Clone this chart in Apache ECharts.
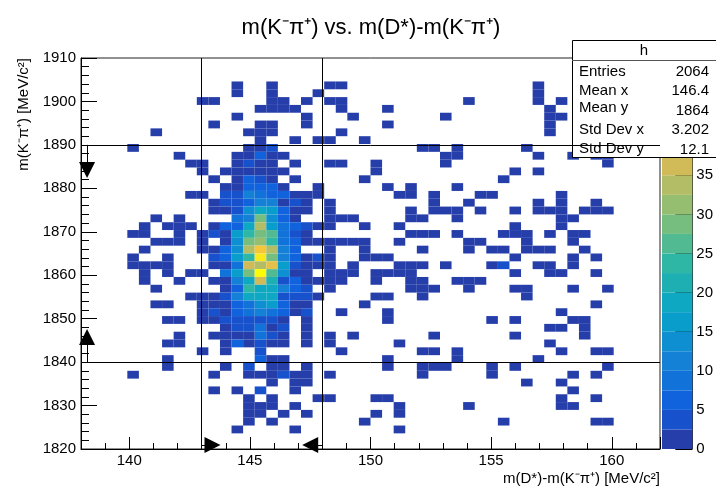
<!DOCTYPE html>
<html><head><meta charset="utf-8">
<style>html,body{margin:0;padding:0;background:#fff}#c{width:716px;height:490px}</style>
<script src="https://cdn.jsdelivr.net/npm/echarts@6/dist/echarts.min.js"></script>
</head><body><div id="c"></div>
<script>
// histogram binning (50 x 50 bins)
const xRange = [138, 162];
const yRange = [1820, 1910];
const binCount = 50;
// bin contents, one entry per y bin from the top; each segment = [first x bin, count, count, ...]
const rowSegments = [
 [],[],[],
 [[13,1],[16,1],[21,1,1],[39,1]],
 [[13,1],[16,1],[20,1],[39,1]],
 [[10,1,1],[16,1,1],[19,1],[21,1,1],[33,1],[39,1],[41,1]],
 [[15,1,1,1,1],[22,1],[26,1],[40,1]],
 [[13,1],[19,1],[23,1],[31,1],[40,1,1]],
 [[11,1],[15,1,1],[19,1],[26,1],[40,1]],
 [[6,1],[14,1,1,1],[22,1],[40,1]],
 [[15,1],[18,1],[20,1,1],[24,1]],
 [[4,1],[14,1,1,3],[29,1,1],[32,1],[38,1]],
 [[8,1],[13,1,1,6,1,1],[31,1,1],[39,1],[42,1],[44,1,1]],
 [[9,1,1],[13,1,3,1,1],[18,1],[21,1,1],[25,1],[31,1],[45,1]],
 [[10,1],[12,1,1,1,1,1,1],[25,1],[37,1],[39,1]],
 [[11,1],[13,1,6,3,1],[18,1],[24,1],[36,1]],
 [[12,1,1,6,6,6,1],[20,1],[26,1],[28,1],[32,1]],
 [[9,1,1],[12,3,3,11,8,6,6,1,1,1],[27,1,1],[30,1],[34,1,1],[41,1]],
 [[11,1,3,3,6,11,11,1,3,1],[21,1],[30,1],[33,1],[39,1],[41,1],[44,1]],
 [[11,1,1,3,13,18,16,6,1,1],[21,1],[28,1],[30,1,1,1],[34,1],[37,1],[39,1,1,1],[43,1,1,1]],
 [[6,1],[8,1],[13,8,11,28,13,6,1],[21,1,1,1],[28,1,1],[32,1],[41,1,1]],
 [[5,1],[7,1,1,1],[11,1,6,6,18,33,16,8,6,3,1,1],[24,1],[27,1],[37,1],[41,1]],
 [[4,1,1],[8,1],[10,1,3,1,16,23,28,26,8,3,1],[28,1,1,1],[32,1],[36,1,1,1],[40,1],[42,1,1]],
 [[6,1,1,1],[10,1],[12,1,13,28,31,23,8,6,1,1,1,1,1,1],[27,1],[33,1,1],[38,1],[42,1]],
 [[5,1],[10,1,1,6,13,33,41,33,11,6],[21,1],[24,1],[29,1],[33,1],[35,1,1],[38,1,1,1],[43,1]],
 [[4,1],[7,1],[11,3,6,16,23,46,28,11,6,1,3,1],[24,1,1,1],[37,1],[42,1],[44,1]],
 [[4,1,1,1,1],[11,1,1,8,36,33,38,16,3,1,1,1],[23,1],[27,1,1,1],[31,1],[35,1,3],[39,1,1],[42,1]],
 [[5,1],[7,1],[9,1,1],[12,8,16,28,49,26,13,1,1],[21,1,1,1],[25,1,1,1,1],[37,1],[40,1,1],[44,1]],
 [[5,1],[8,1],[11,1,1,11,18,36,21,3,6,1,1,1,1],[25,1],[28,1,1],[32,1,1,1]],
 [[6,1],[12,1,6,23,18,18,11,6,3],[21,1],[28,1,1,1],[33,1],[37,1,1],[42,1],[45,1]],
 [[9,1,1,1,3,11,18,18,18,3,3,3,1],[25,1,1],[29,1],[38,1]],
 [[6,1,1],[10,1,1,1,6,8,13,16,6,1,1],[24,1],[44,1]],
 [[10,1,3,1,6,8,11,8,6,1,3],[22,1],[26,1],[41,1]],
 [[7,1,1],[10,1,1,3,3,3,3,3,1],[19,1],[26,1],[35,1],[37,1],[42,1,1]],
 [[12,1,3,3,8,1,3],[19,1],[40,1,1],[43,1]],
 [[8,1],[11,1,1,1,1,8,3,1],[19,1],[21,1],[23,1],[30,1],[37,1],[43,1]],
 [[7,1,1],[12,1,6,1,3,1,1],[19,1],[21,1],[27,1],[40,1]],
 [[10,1],[12,1],[15,3],[22,1],[29,1,1],[32,1],[41,1],[44,1,1]],
 [[7,1],[15,6,1,1],[26,1],[32,1],[39,1]],
 [[7,1],[12,1],[14,3],[16,1,1],[19,1],[26,1],[29,1,1,1],[35,1],[37,1],[45,1]],
 [[4,1],[11,1],[14,1,1,1,3,1,1],[21,1],[29,1],[35,1],[42,1],[44,1]],
 [[16,1],[18,1,1],[38,1],[41,1]],
 [[11,1],[13,1],[15,3],[18,1],[42,1]],
 [[14,1],[16,1],[20,1,1],[25,1,1],[41,1],[44,1]],
 [[14,1,1,1],[18,1],[27,1],[33,1],[41,1,1]],
 [[14,1,1],[17,1],[19,1],[25,1],[27,1]],
 [[14,1],[16,1],[24,1],[36,1],[44,1,1]],
 [[13,1],[18,1],[27,1]],
 [],[]
];
// colour scale
const zMax = 50;
const palette = ['#263ea9','#1752cc','#1063dc','#1172d9','#1481d6','#0e8fd1','#099dcc','#0ea8c2','#1eafb3','#2eb7a4','#52ba92','#75be80','#96be71','#b3bd65','#d1bb59','#e3c049','#f5c53a','#fdd32b','#fbe81a','#fdfb06'];
// selection limits and arrow end points
const limitsX = [143, 148];
const limitsY = [1840, 1890];
const arrows = [
 [[143, 1820.9], [143.45, 1820.9]],
 [[148, 1820.9], [147.5, 1820.9]],
 [[138.25, 1890], [138.25, 1884.2]],
 [[138.25, 1840], [138.25, 1845.8]]
];
// stats box
const statsName = 'h';
const statsLabels = ['Entries', 'Mean x', 'Mean y', 'Std Dev x', 'Std Dev y'];
const statsValues = ['2064', '146.4', '1864', '3.202', '12.1'];
const statsLabelY = [72, 91, 108, 130, 149];
const statsValueY = [72, 91, 111, 130, 150];

const font = '"Liberation Sans", Arial, sans-serif';
const xStep = (xRange[1] - xRange[0]) / binCount;
const yStep = (yRange[1] - yRange[0]) / binCount;
const cells = [];
rowSegments.forEach((segs, r) => segs.forEach(seg => {
  for (let k = 1; k < seg.length; k++) {
    const j = seg[0] + k - 1;
    cells.push([xRange[0] + j * xStep, yRange[1] - (r + 1) * yStep, xRange[0] + (j + 1) * xStep, yRange[1] - r * yStep, seg[k]]);
  }
}));
const bandStep = zMax / palette.length;
const bands = palette.map((c, i) => [i * bandStep, (i + 1) * bandStep]);
const colorOf = z => palette[Math.min(palette.length - 1, Math.floor(z / bandStep))];

const rectItem = (params, api, x0, y0, x1, y1, fill) => {
  const a = api.coord([x0, y0]), b = api.coord([x1, y1]);
  return {type: 'rect', shape: {x: a[0], y: b[1], width: b[0] - a[0], height: a[1] - b[1]}, style: {fill: fill}};
};

const statsText = [];
statsLabels.forEach((t, i) => statsText.push({type: 'text', z: 11, x: 579, y: statsLabelY[i], style: {text: t, font: '15px ' + font, fill: '#000', textAlign: 'left', textVerticalAlign: 'middle'}}));
statsValues.forEach((t, i) => statsText.push({type: 'text', z: 11, x: 709, y: statsValueY[i], style: {text: t, font: '15px ' + font, fill: '#000', textAlign: 'right', textVerticalAlign: 'middle'}}));

const chart = echarts.init(document.getElementById('c'), null, {renderer: 'canvas'});
chart.setOption({
  animation: false,
  backgroundColor: '#fff',
  title: {text: 'm(K⁻π⁺) vs. m(D*)-m(K⁻π⁺)', left: 366, top: 12, textAlign: 'center', textStyle: {fontFamily: font, fontSize: 22, fontWeight: 'normal', color: '#000'}},
  grid: [
    {left: 81, right: 56, top: 58, bottom: 41, show: true, borderColor: '#222', borderWidth: 1, backgroundColor: 'transparent'},
    {left: 662, right: 21, top: 58, bottom: 41}
  ],
  xAxis: [
    {type: 'value', gridIndex: 0, min: xRange[0], max: xRange[1], splitNumber: 5, splitLine: {show: false},
     name: 'm(D*)-m(K⁻π⁺) [MeV/c²]', nameLocation: 'end', nameGap: 0,
     nameTextStyle: {fontFamily: font, fontSize: 15, color: '#000', align: 'right', verticalAlign: 'top', padding: [22, 0, 0, 0]},
     axisLine: {lineStyle: {color: '#000'}},
     axisTick: {inside: true, length: 12, lineStyle: {color: '#000'}},
     minorTick: {show: true, splitNumber: 5, length: 6, lineStyle: {color: '#000'}},
     axisLabel: {fontFamily: font, fontSize: 15, color: '#000', margin: 4, showMinLabel: false, showMaxLabel: false}},
    {type: 'value', gridIndex: 1, min: 0, max: 1, show: false}
  ],
  yAxis: [
    {type: 'value', gridIndex: 0, min: yRange[0], max: yRange[1], interval: 10, splitLine: {show: false},
     name: 'm(K⁻π⁺) [MeV/c²]', nameLocation: 'end', nameGap: 0, nameRotate: 90,
     nameTextStyle: {fontFamily: font, fontSize: 15, color: '#000', align: 'right', verticalAlign: 'bottom', padding: [0, 0, 50, 0]},
     axisLine: {lineStyle: {color: '#000'}},
     axisTick: {inside: true, length: 16, lineStyle: {color: '#000'}},
     minorTick: {show: true, splitNumber: 5, length: 8, lineStyle: {color: '#000'}},
     axisLabel: {fontFamily: font, fontSize: 15, color: '#000', margin: 5, padding: [2, 0, 0, 0], formatter: v => String(v)}},
    {type: 'value', gridIndex: 1, position: 'right', min: 0, max: zMax, interval: 5, splitLine: {show: false},
     axisLine: {show: true, onZero: false, lineStyle: {color: '#333'}},
     axisTick: {inside: true, length: 17, lineStyle: {color: '#000'}},
     axisLabel: {fontFamily: font, fontSize: 15, color: '#000', margin: 4, padding: [2, 0, 0, 0]}}
  ],
  series: [
    {type: 'custom', name: 'h', xAxisIndex: 0, yAxisIndex: 0, z: 2, silent: true, clip: true,
     data: cells, encode: {x: [0, 2], y: [1, 3]},
     renderItem: (p, api) => rectItem(p, api, api.value(0), api.value(1), api.value(2), api.value(3), colorOf(api.value(4)))},
    {type: 'custom', name: 'scale', xAxisIndex: 1, yAxisIndex: 1, z: 2, silent: true,
     data: bands.map((b, i) => [b[0], b[1], i]), encode: {y: [0, 1]},
     renderItem: (p, api) => rectItem(p, api, 0, api.value(0), 1, api.value(1), palette[api.value(2)])},
    {type: 'line', xAxisIndex: 0, yAxisIndex: 0, z: 20, data: [], silent: true,
     markLine: {z: 20, silent: true, animation: false, symbol: ['none', 'none'], label: {show: false},
       lineStyle: {color: '#000', width: 1, type: 'solid'},
       data: [
         ...limitsX.map(v => [{coord: [v, yRange[0]]}, {coord: [v, yRange[1]]}]),
         ...limitsY.map(v => [{coord: [xRange[0], v]}, {coord: [xRange[1], v]}]),
       ]}},
    {type: 'line', xAxisIndex: 0, yAxisIndex: 0, z: 21, data: [], silent: true,
     markLine: {z: 21, silent: true, animation: false, symbol: ['none', 'triangle'], symbolSize: [16, 16], label: {show: false},
       lineStyle: {color: '#000', width: 1, type: 'solid'},
       data: arrows.map(a => [{coord: a[0]}, {coord: a[1]}])}}
  ],
  graphic: [
    {type: 'rect', z: 10, shape: {x: 572.5, y: 40.5, width: 150, height: 117}, style: {fill: '#fff', stroke: '#000', lineWidth: 1}},
    {type: 'line', z: 11, shape: {x1: 572, y1: 60.5, x2: 716, y2: 60.5}, style: {stroke: '#555', lineWidth: 1}},
    {type: 'text', z: 11, x: 644, y: 51, style: {text: statsName, font: '15px ' + font, fill: '#000', textAlign: 'center', textVerticalAlign: 'middle'}},
    ...statsText
  ]
});
</script></body></html>
